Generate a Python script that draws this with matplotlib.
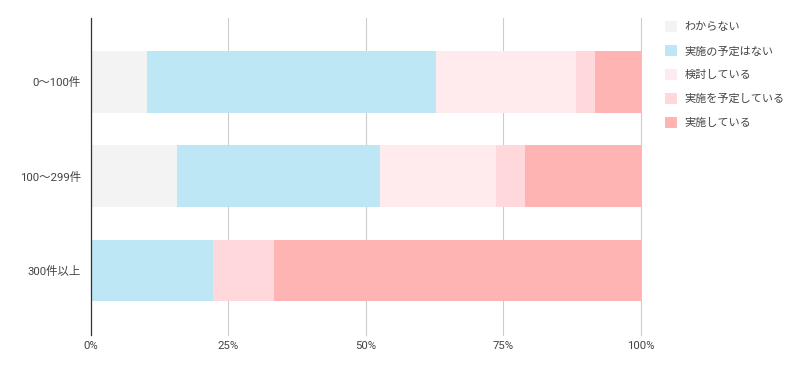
import matplotlib
matplotlib.use("Agg")
import matplotlib.pyplot as plt
import numpy as np

plt.rcParams['font.family'] = ['Roboto', 'Noto Sans CJK JP', 'DejaVu Sans']

categories = ["0〜100件", "100〜299件", "300件以上"]
series_names = ["わからない", "実施の予定はない", "検討している", "実施を予定している", "実施している"]
unknown = [10.3, 15.8, 0.0]
no_plan = [52.4, 36.8, 22.2]
considering = [25.5, 21.1, 0.0]
planning = [3.4, 5.3, 11.1]
implementing = [8.4, 21.0, 66.7]
colors = ["#f3f3f3", "#bde7f4", "#ffebed", "#ffd8dc", "#ffb4b4"]
xticks = [0, 25, 50, 75, 100]
xticklabels = ["0%", "25%", "50%", "75%", "100%"]

series = [unknown, no_plan, considering, planning, implementing]

fig = plt.figure(figsize=(8.01, 3.71), dpi=100)
ax = fig.add_axes([90.5/801, (371-335)/371, 550.5/801, 317/371])

y = np.arange(len(categories))
left = np.zeros(len(categories))
handles = []
for vals, name, c in zip(series, series_names, colors):
    vals = np.array(vals)
    b = ax.barh(y, vals, left=left, height=0.65, color=c, label=name, zorder=2, linewidth=0)
    handles.append(b)
    left += vals

ax.set_xlim(0, 100)
ax.set_ylim(2.69, -0.68)
ax.set_yticks(y)
ax.set_yticklabels(categories, fontsize=8.2, color="#444444")
ax.set_xticks(xticks)
ax.set_xticklabels(xticklabels, fontsize=8.2, color="#444444")
ax.tick_params(axis='x', length=0, pad=4)
ax.tick_params(axis='y', length=0, pad=7)
for s in ["top", "right", "bottom"]:
    ax.spines[s].set_visible(False)
ax.spines["left"].set_color("#333333")
ax.spines["left"].set_linewidth(0.9)
ax.spines["left"].set_zorder(3)
ax.grid(axis='x', color="#cccccc", linewidth=0.8, zorder=0)
gl = ax.get_xgridlines()
for g in gl:
    g.set_clip_on(False)
gl[0].set_visible(False)

leg = fig.legend(handles=handles, labels=series_names, loc="upper left",
                 bbox_to_anchor=(661/801, 1 - 17/371), frameon=False,
                 fontsize=8.0, handlelength=1.05, handleheight=1.05,
                 handletextpad=0.7, labelspacing=1.17, borderaxespad=0)
for t in leg.get_texts():
    t.set_color("#444444")

fig.savefig("out.png", dpi=100)
